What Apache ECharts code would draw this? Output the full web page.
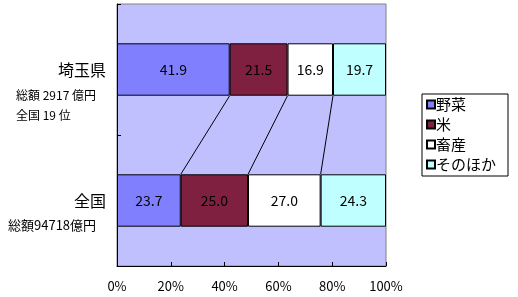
<!DOCTYPE html>
<html>
<head>
<meta charset="utf-8">
<script src="https://cdn.jsdelivr.net/npm/echarts@6/dist/echarts.min.js"></script>
<style>
  html, body { margin: 0; padding: 0; background: #fff; }
</style>
</head>
<body>
<div id="main" style="width:518px;height:297px;"></div>
<script>
  // 品目別の構成比 (%)
  var categories = ['埼玉県', '全国'];
  var seriesNames = ['野菜', '米', '畜産', 'そのほか'];
  var yasai = [41.9, 23.7];
  var kome = [21.5, 25.0];
  var chikusan = [16.9, 27.0];
  var sonohoka = [19.7, 24.3];
  var xTicks = [0, 20, 40, 60, 80, 100];
  var colors = ['#8080FF', '#802040', '#FFFFFF', '#C0FFFF'];

  var font = '"Noto Sans CJK JP", sans-serif';
  var chart = echarts.init(document.getElementById('main'));

  var values = [yasai, kome, chikusan, sonohoka];

  // 区分線（系列線）用の累積値
  var seriesLineData = [];
  var accS = 0, accZ = 0;
  for (var i = 0; i < values.length - 1; i++) {
    accS += values[i][0];
    accZ += values[i][1];
    seriesLineData.push([accS, 0, accZ]);
  }

  var barSeries = values.map(function (arr, i) {
    return {
      name: seriesNames[i],
      type: 'bar',
      stack: 'total',
      barWidth: '40%',
      data: arr,
      itemStyle: { color: colors[i], borderColor: '#000', borderWidth: 1 },
      label: {
        show: true,
        position: 'inside',
        color: '#000',
        fontFamily: font,
        fontSize: 14,
        formatter: function (p) { return p.value.toFixed(1); }
      }
    };
  });

  var option = {
    animation: false,
    textStyle: { fontFamily: font },
    grid: {
      left: 117, right: 132, top: 4, bottom: 31,
      show: true,
      backgroundColor: '#C0C0FF',
      borderColor: '#808080',
      borderWidth: 1
    },
    legend: {
      orient: 'vertical',
      left: 422,
      top: 94,
      data: seriesNames,
      icon: 'rect',
      itemWidth: 8,
      itemHeight: 8,
      itemGap: 5,
      padding: [3, 12, 4, 4],
      backgroundColor: '#fff',
      borderColor: '#000',
      borderWidth: 1,
      textStyle: { fontSize: 15, color: '#000', padding: [0, 0, 0, -4] }
    },
    xAxis: {
      type: 'value',
      min: 0,
      max: 100,
      interval: 20,
      axisLine: { show: true, lineStyle: { color: '#000' } },
      axisTick: { show: true, inside: true, length: 4, lineStyle: { color: '#000' } },
      splitLine: { show: false },
      axisLabel: {
        color: '#000',
        fontSize: 13,
        margin: 14,
        formatter: function (v) { return xTicks.indexOf(v) >= 0 ? v + '%' : ''; }
      }
    },
    yAxis: {
      type: 'category',
      data: categories,
      inverse: true,
      axisLine: { show: true, lineStyle: { color: '#000' } },
      axisTick: { show: true, inside: true, length: 4, lineStyle: { color: '#000' } },
      axisLabel: {
        color: '#000',
        fontSize: 16,
        margin: 11,
        verticalAlign: 'middle',
        formatter: function (v) { return v; }
      }
    },
    series: barSeries.concat([{
      type: 'custom',
      silent: true,
      z: 1,
      encode: { x: 0, y: 1 },
      data: seriesLineData,
      renderItem: function (params, api) {
        var p1 = api.coord([api.value(0), 0]);
        var p2 = api.coord([api.value(2), 1]);
        var half = api.size([0, 1])[1] * 0.2;
        return {
          type: 'line',
          shape: { x1: p1[0], y1: p1[1] + half, x2: p2[0], y2: p2[1] - half },
          style: { stroke: '#000', lineWidth: 1 }
        };
      }
    }]),
    graphic: [
      { type: 'text', left: 16, top: 89, style: { text: '総額 2917 億円', font: '12px ' + font, fill: '#000' } },
      { type: 'text', left: 16, top: 109, style: { text: '全国 19 位', font: '12px ' + font, fill: '#000' } },
      { type: 'text', left: 8, top: 219, style: { text: '総額94718億円', font: '13px ' + font, fill: '#000' } }
    ]
  };

  chart.setOption(option);
</script>
</body>
</html>
